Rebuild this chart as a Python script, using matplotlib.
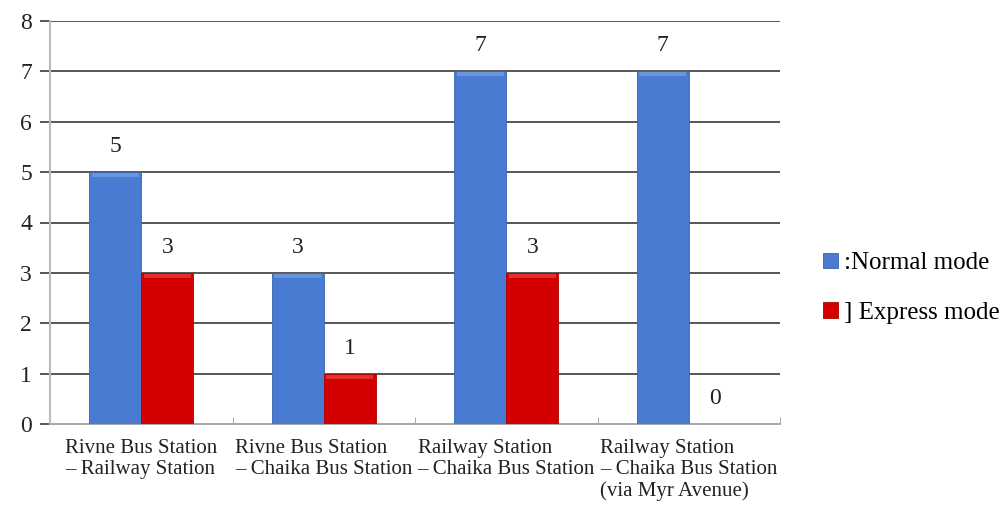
import matplotlib
matplotlib.use("Agg")
import matplotlib.pyplot as plt
import numpy as np

plt.rcParams['font.family'] = ['Liberation Serif', 'DejaVu Serif']

# Route categories and trip counts per mode
routes = [
    "Rivne Bus Station\n\u2013 Railway Station",
    "Rivne Bus Station\n\u2013 Chaika Bus Station",
    "Railway Station\n\u2013 Chaika Bus Station",
    "Railway Station\n\u2013 Chaika Bus Station\n(via Myr Avenue)",
]
normal_mode = [5, 3, 7, 7]
express_mode = [3, 1, 3, 0]
series_labels = [":Normal mode", "] Express mode"]
y_ticks = [0, 1, 2, 3, 4, 5, 6, 7, 8]

blue = "#4a7bd3"
red = "#d40000"

fig = plt.figure(figsize=(10.06, 5.15), dpi=100)
ax = fig.add_axes([50 / 1006, 91 / 515, 730 / 1006, 403 / 515])

x = np.arange(len(routes))
w = 0.285
b1 = ax.bar(x - w / 2, normal_mode, w, color=blue, edgecolor="#3a64b0",
            linewidth=0.6, zorder=3, label=series_labels[0])
b2 = ax.bar(x + w / 2, express_mode, w, color=red, edgecolor="#b00000",
            linewidth=0.6, zorder=3, label=series_labels[1])

# light bevel on bar tops
for bars, light in ((b1, "#7fa5e6"), (b2, "#f05050")):
    for r in bars:
        h = r.get_height()
        if h > 0:
            ax.bar(r.get_x() + r.get_width() / 2, 0.08, r.get_width() * 0.9,
                   bottom=h - 0.1, color=light, alpha=0.6, linewidth=0, zorder=4)

for bars in (b1, b2):
    for r in bars:
        h = r.get_height()
        ax.text(r.get_x() + r.get_width() / 2, h + 0.3, f"{h:g}",
                ha="center", va="bottom", fontsize=17, color="#222222", zorder=5)

ax.set_xlim(-0.5, len(routes) - 0.5)
ax.set_ylim(0, 8)
ax.set_yticks(y_ticks)
ax.yaxis.grid(True, color="#4a4a4a", linewidth=1.3, zorder=0)
ax.set_axisbelow(True)

ax.set_xticks(x)
ax.set_xticklabels(routes, fontsize=15, color="#222222", linespacing=1.15,
                   multialignment="left")
ax.set_xticks(np.arange(len(routes) + 1) - 0.5, minor=True)
ax.tick_params(axis="x", which="major", length=0, pad=11)
ax.tick_params(axis="x", which="minor", length=5, color="#999999", direction="in")
ax.tick_params(axis="y", length=7, color="#4a4a4a", width=1.3, labelsize=17,
               pad=6, labelcolor="#222222")

for s in ("top", "right"):
    ax.spines[s].set_visible(False)
ax.spines["left"].set_color("#bbbbbb")
ax.spines["left"].set_linewidth(1.5)
ax.spines["bottom"].set_color("#aaaaaa")
ax.spines["bottom"].set_linewidth(1.5)

leg = fig.legend(handles=[b1, b2], labels=series_labels, loc="center left",
                 bbox_to_anchor=(823 / 1006, 1 - 288 / 515), frameon=False,
                 fontsize=18, handlelength=0.6, handleheight=0.6,
                 handletextpad=0.25, labelspacing=1.1, borderpad=0,
                 borderaxespad=0)

fig.savefig("out.png", dpi=100)
